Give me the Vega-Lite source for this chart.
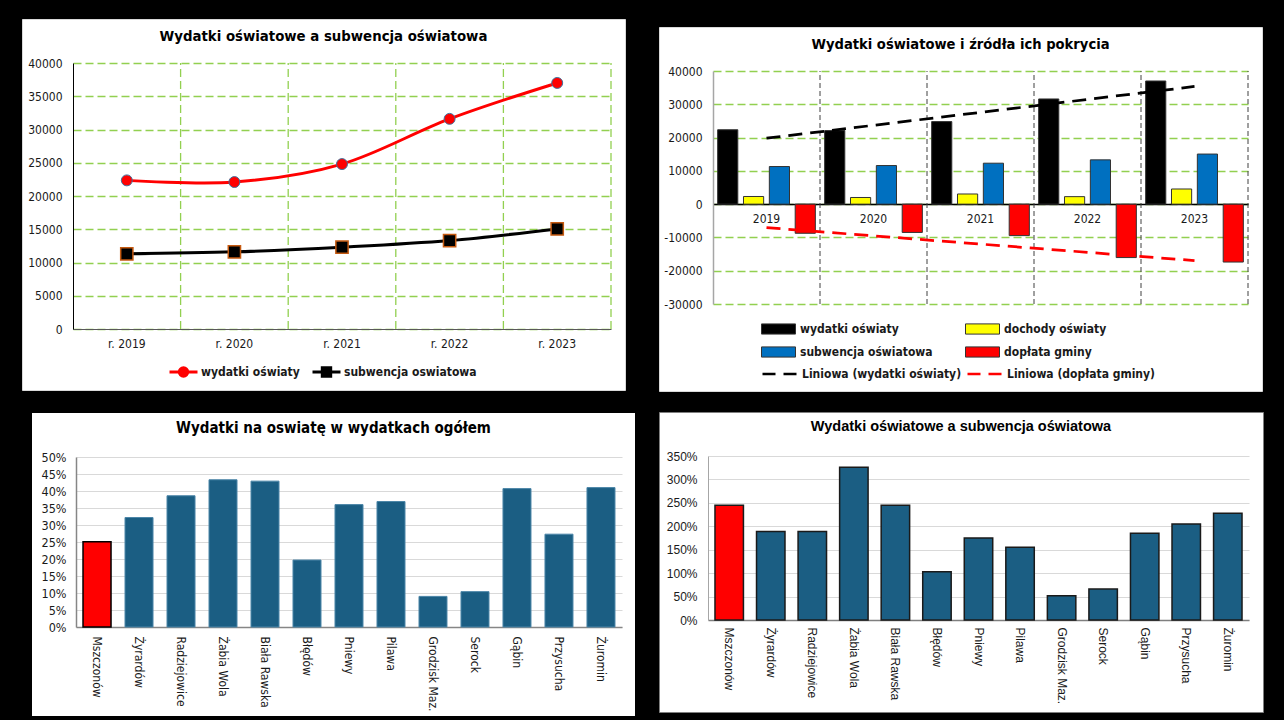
{
  "$schema": "https://vega.github.io/schema/vega-lite/v6.json",
  "background": "black",
  "padding": {"left": 21, "top": 18, "right": 25, "bottom": 7},
  "autosize": {"type": "pad"},
  "config": {"axis": {"ticks": false}},
  "datasets": {
    "p1": [
      {"rok": "r. 2019", "seria": "wydatki oświaty", "wartosc": 22350},
      {"rok": "r. 2020", "seria": "wydatki oświaty", "wartosc": 22100},
      {"rok": "r. 2021", "seria": "wydatki oświaty", "wartosc": 24800},
      {"rok": "r. 2022", "seria": "wydatki oświaty", "wartosc": 31600},
      {"rok": "r. 2023", "seria": "wydatki oświaty", "wartosc": 37000},
      {"rok": "r. 2019", "seria": "subwencja oswiatowa", "wartosc": 11300},
      {"rok": "r. 2020", "seria": "subwencja oswiatowa", "wartosc": 11600},
      {"rok": "r. 2021", "seria": "subwencja oswiatowa", "wartosc": 12300},
      {"rok": "r. 2022", "seria": "subwencja oswiatowa", "wartosc": 13300},
      {"rok": "r. 2023", "seria": "subwencja oswiatowa", "wartosc": 15050}
    ],
    "p2": [
      {"rok": "2019", "seria": "wydatki oświaty", "wartosc": 22350},
      {"rok": "2020", "seria": "wydatki oświaty", "wartosc": 22100},
      {"rok": "2021", "seria": "wydatki oświaty", "wartosc": 24800},
      {"rok": "2022", "seria": "wydatki oświaty", "wartosc": 31600},
      {"rok": "2023", "seria": "wydatki oświaty", "wartosc": 37000},
      {"rok": "2019", "seria": "dochody oświaty", "wartosc": 2300},
      {"rok": "2020", "seria": "dochody oświaty", "wartosc": 2000},
      {"rok": "2021", "seria": "dochody oświaty", "wartosc": 3050},
      {"rok": "2022", "seria": "dochody oświaty", "wartosc": 2250},
      {"rok": "2023", "seria": "dochody oświaty", "wartosc": 4550},
      {"rok": "2019", "seria": "subwencja oświatowa", "wartosc": 11300},
      {"rok": "2020", "seria": "subwencja oświatowa", "wartosc": 11600},
      {"rok": "2021", "seria": "subwencja oświatowa", "wartosc": 12300},
      {"rok": "2022", "seria": "subwencja oświatowa", "wartosc": 13300},
      {"rok": "2023", "seria": "subwencja oświatowa", "wartosc": 15050},
      {"rok": "2019", "seria": "dopłata gminy", "wartosc": -8750},
      {"rok": "2020", "seria": "dopłata gminy", "wartosc": -8500},
      {"rok": "2021", "seria": "dopłata gminy", "wartosc": -9450},
      {"rok": "2022", "seria": "dopłata gminy", "wartosc": -16050},
      {"rok": "2023", "seria": "dopłata gminy", "wartosc": -17400}
    ],
    "p2t": [
      {"rok": "2019", "seria": "Liniowa (wydatki oświaty)", "wartosc": 19800},
      {"rok": "2023", "seria": "Liniowa (wydatki oświaty)", "wartosc": 35350},
      {"rok": "2019", "seria": "Liniowa (dopłata gminy)", "wartosc": -7050},
      {"rok": "2023", "seria": "Liniowa (dopłata gminy)", "wartosc": -16950}
    ],
    "gminy": [
      {"gmina": "Mszczonów", "udzial": 0.251, "relacja": 2.45},
      {"gmina": "Żyrardów", "udzial": 0.322, "relacja": 1.89},
      {"gmina": "Radziejowice", "udzial": 0.386, "relacja": 1.89},
      {"gmina": "Żabia Wola", "udzial": 0.433, "relacja": 3.26},
      {"gmina": "Biała Rawska", "udzial": 0.429, "relacja": 2.45},
      {"gmina": "Błędów", "udzial": 0.197, "relacja": 1.03},
      {"gmina": "Pniewy", "udzial": 0.36, "relacja": 1.75},
      {"gmina": "Pilawa", "udzial": 0.369, "relacja": 1.55},
      {"gmina": "Grodzisk Maz.", "udzial": 0.09, "relacja": 0.52},
      {"gmina": "Serock", "udzial": 0.104, "relacja": 0.66},
      {"gmina": "Gąbin", "udzial": 0.407, "relacja": 1.85},
      {"gmina": "Przysucha", "udzial": 0.273, "relacja": 2.05},
      {"gmina": "Żuromin", "udzial": 0.41, "relacja": 2.28}
    ]
  },
  "spacing": 19,
  "vconcat": [
    {
      "spacing": 32,
      "hconcat": [
        {
          "width": 603,
          "height": 371,
          "view": {"fill": "white", "stroke": "#D9D9D9"},
          "title": {"text": "Wydatki oświatowe a subwencja oświatowa", "offset": -25, "font": "DejaVu Sans Condensed, DejaVu Sans, sans-serif", "fontSize": 14.8, "fontWeight": "bold", "color": "black", "anchor": "middle"},
          "layer": [
            {
              "data": {"name": "p1"},
              "transform": [{"filter": "datum.seria == 'wydatki oświaty'"}],
              "mark": {"type": "rule", "stroke": "#92D050", "strokeWidth": 1.3, "strokeDash": [8, 4]},
              "encoding": {
                "x": {"field": "rok", "type": "nominal", "bandPosition": 1,
                  "scale": {"type": "band", "range": [51, 589], "paddingInner": 0, "paddingOuter": 0},
                  "axis": {"orient": "bottom", "offset": -61, "title": null, "labelAngle": 0, "labelPadding": 9, "labelFont": "DejaVu Sans Condensed, DejaVu Sans, sans-serif", "labelFontSize": 12, "labelColor": "#1a1a1a", "domainColor": "#595959", "domainWidth": 1, "grid": false, "ticks": false}},
                "y": {"datum": 0, "type": "quantitative",
                  "scale": {"domain": [0, 40000], "range": [310, 44], "nice": false},
                  "axis": {"orient": "left", "offset": -51, "title": null, "values": [0, 5000, 10000, 15000, 20000, 25000, 30000, 35000, 40000], "format": "d", "grid": true, "gridColor": "#92D050", "gridDash": [8, 4], "gridWidth": 1.3, "domainColor": "#000000", "domainWidth": 1, "ticks": false, "labelPadding": 11, "labelFont": "DejaVu Sans Condensed, DejaVu Sans, sans-serif", "labelFontSize": 12, "labelColor": "#1a1a1a"}},
                "y2": {"datum": 40000}
              }
            },
            {
              "data": {"name": "p1"},
              "mark": {"type": "line", "interpolate": "cardinal", "strokeWidth": 3},
              "encoding": {
                "x": {"field": "rok", "type": "nominal",
                  "scale": {"type": "band", "range": [51, 589], "paddingInner": 0, "paddingOuter": 0},
                  "axis": {"orient": "bottom", "offset": -61, "title": null, "labelAngle": 0, "labelPadding": 9, "labelFont": "DejaVu Sans Condensed, DejaVu Sans, sans-serif", "labelFontSize": 12, "labelColor": "#1a1a1a", "domainColor": "#595959", "domainWidth": 1, "grid": false, "ticks": false}},
                "y": {"field": "wartosc", "type": "quantitative",
                  "scale": {"domain": [0, 40000], "range": [310, 44], "nice": false},
                  "axis": {"orient": "left", "offset": -51, "title": null, "values": [0, 5000, 10000, 15000, 20000, 25000, 30000, 35000, 40000], "format": "d", "grid": true, "gridColor": "#92D050", "gridDash": [8, 4], "gridWidth": 1.3, "domainColor": "#000000", "domainWidth": 1, "ticks": false, "labelPadding": 11, "labelFont": "DejaVu Sans Condensed, DejaVu Sans, sans-serif", "labelFontSize": 12, "labelColor": "#1a1a1a"}},
                "color": {"field": "seria", "type": "nominal",
                  "scale": {"domain": ["wydatki oświaty", "subwencja oswiatowa"], "range": ["#FF0000", "#000000"]},
                  "legend": {"orient": "none", "legendX": 146, "legendY": 345.5, "direction": "horizontal", "title": null, "symbolSize": 784, "symbolStrokeWidth": 3, "labelFont": "DejaVu Sans Condensed, DejaVu Sans, sans-serif", "labelFontSize": 12, "labelFontWeight": "bold", "labelColor": "#1a1a1a", "labelOffset": 2, "columnPadding": 11, "clipHeight": 15, "labelLimit": 300,
                    "encode": {"symbols": {"update": {
                      "fill": [{"test": "datum.value == 'wydatki oświaty'", "value": "#FF0000"}, {"value": "#000000"}],
                      "shape": [{"test": "datum.value == 'wydatki oświaty'", "value": "M-1,0H1M-0.3,0A0.3,0.3,0,1,1,0.3,0A0.3,0.3,0,1,1,-0.3,0Z"}, {"value": "M-1,0H1M-0.3,-0.3H0.3V0.3H-0.3Z"}]
                    }}}}
                }
              }
            },
            {
              "data": {"name": "p1"},
              "transform": [{"filter": "datum.seria == 'wydatki oświaty'"}],
              "mark": {"type": "point", "shape": "circle", "filled": true, "fill": "#FF0000", "stroke": "#41719C", "strokeWidth": 1, "size": 120, "opacity": 1},
              "encoding": {
                "x": {"field": "rok", "type": "nominal",
                  "scale": {"type": "band", "range": [51, 589], "paddingInner": 0, "paddingOuter": 0},
                  "axis": {"orient": "bottom", "offset": -61, "title": null, "labelAngle": 0, "labelPadding": 9, "labelFont": "DejaVu Sans Condensed, DejaVu Sans, sans-serif", "labelFontSize": 12, "labelColor": "#1a1a1a", "domainColor": "#595959", "domainWidth": 1, "grid": false, "ticks": false}},
                "y": {"field": "wartosc", "type": "quantitative",
                  "scale": {"domain": [0, 40000], "range": [310, 44], "nice": false},
                  "axis": {"orient": "left", "offset": -51, "title": null, "values": [0, 5000, 10000, 15000, 20000, 25000, 30000, 35000, 40000], "format": "d", "grid": true, "gridColor": "#92D050", "gridDash": [8, 4], "gridWidth": 1.3, "domainColor": "#000000", "domainWidth": 1, "ticks": false, "labelPadding": 11, "labelFont": "DejaVu Sans Condensed, DejaVu Sans, sans-serif", "labelFontSize": 12, "labelColor": "#1a1a1a"}}
              }
            },
            {
              "data": {"name": "p1"},
              "transform": [{"filter": "datum.seria == 'subwencja oswiatowa'"}],
              "mark": {"type": "point", "shape": "square", "filled": true, "fill": "#000000", "stroke": "#C55A11", "strokeWidth": 1.5, "size": 150, "opacity": 1},
              "encoding": {
                "x": {"field": "rok", "type": "nominal",
                  "scale": {"type": "band", "range": [51, 589], "paddingInner": 0, "paddingOuter": 0},
                  "axis": {"orient": "bottom", "offset": -61, "title": null, "labelAngle": 0, "labelPadding": 9, "labelFont": "DejaVu Sans Condensed, DejaVu Sans, sans-serif", "labelFontSize": 12, "labelColor": "#1a1a1a", "domainColor": "#595959", "domainWidth": 1, "grid": false, "ticks": false}},
                "y": {"field": "wartosc", "type": "quantitative",
                  "scale": {"domain": [0, 40000], "range": [310, 44], "nice": false},
                  "axis": {"orient": "left", "offset": -51, "title": null, "values": [0, 5000, 10000, 15000, 20000, 25000, 30000, 35000, 40000], "format": "d", "grid": true, "gridColor": "#92D050", "gridDash": [8, 4], "gridWidth": 1.3, "domainColor": "#000000", "domainWidth": 1, "ticks": false, "labelPadding": 11, "labelFont": "DejaVu Sans Condensed, DejaVu Sans, sans-serif", "labelFontSize": 12, "labelColor": "#1a1a1a"}}
              }
            }
          ]
        },
        {
          "spacing": 6,
          "vconcat": [
            {"width": 1, "height": 1, "data": {"values": []}, "mark": "point", "encoding": {}, "view": {"stroke": null}},
            {
              "width": 603,
              "height": 364,
              "view": {"fill": "white", "stroke": "#D9D9D9"},
              "title": {"text": "Wydatki oświatowe i źródła ich pokrycia", "offset": -25, "font": "DejaVu Sans Condensed, DejaVu Sans, sans-serif", "fontSize": 14.6, "fontWeight": "bold", "color": "black", "anchor": "middle"},
              "layer": [
                {
                  "data": {"name": "p2"},
                  "transform": [{"filter": "datum.seria == 'wydatki oświaty'"}],
                  "mark": {"type": "rule", "stroke": "#404040", "strokeWidth": 1, "strokeDash": [5, 3]},
                  "encoding": {
                    "x": {"field": "rok", "type": "nominal", "bandPosition": 1,
                      "scale": {"type": "band", "range": [54, 589], "paddingInner": 0, "paddingOuter": 0},
                      "axis": {"orient": "bottom", "offset": -187, "title": null, "labelAngle": 0, "labelPadding": 9, "labelFont": "DejaVu Sans Condensed, DejaVu Sans, sans-serif", "labelFontSize": 12, "labelColor": "#1a1a1a", "domainColor": "#000000", "domainWidth": 1.5, "grid": false, "ticks": false}},
                    "y": {"datum": -30000, "type": "quantitative",
                      "scale": {"domain": [-30000, 40000], "range": [277, 44], "nice": false},
                      "axis": {"orient": "left", "offset": -54, "title": null, "values": [-30000, -20000, -10000, 0, 10000, 20000, 30000, 40000], "labelExpr": "'' + datum.value", "grid": true, "gridColor": "#92D050", "gridDash": [8, 4], "gridWidth": 1.3, "domainColor": "#A6A6A6", "domainWidth": 1.5, "ticks": false, "labelPadding": 11, "labelFont": "DejaVu Sans Condensed, DejaVu Sans, sans-serif", "labelFontSize": 12, "labelColor": "#1a1a1a"}},
                    "y2": {"datum": 40000}
                  }
                },
                {
                  "data": {"name": "p2"},
                  "mark": {"type": "bar", "stroke": "#333333", "strokeWidth": 1},
                  "encoding": {
                    "x": {"field": "rok", "type": "nominal",
                      "scale": {"type": "band", "range": [54, 589], "paddingInner": 0, "paddingOuter": 0},
                      "axis": {"orient": "bottom", "offset": -187, "title": null, "labelAngle": 0, "labelPadding": 9, "labelFont": "DejaVu Sans Condensed, DejaVu Sans, sans-serif", "labelFontSize": 12, "labelColor": "#1a1a1a", "domainColor": "#000000", "domainWidth": 1.5, "grid": false, "ticks": false}},
                    "xOffset": {"field": "seria", "type": "nominal", "scale": {"domain": ["wydatki oświaty", "dochody oświaty", "subwencja oświatowa", "dopłata gminy"], "paddingInner": 0.22, "paddingOuter": 0.18}},
                    "y": {"field": "wartosc", "type": "quantitative",
                      "scale": {"domain": [-30000, 40000], "range": [277, 44], "nice": false},
                      "axis": {"orient": "left", "offset": -54, "title": null, "values": [-30000, -20000, -10000, 0, 10000, 20000, 30000, 40000], "labelExpr": "'' + datum.value", "grid": true, "gridColor": "#92D050", "gridDash": [8, 4], "gridWidth": 1.3, "domainColor": "#A6A6A6", "domainWidth": 1.5, "ticks": false, "labelPadding": 11, "labelFont": "DejaVu Sans Condensed, DejaVu Sans, sans-serif", "labelFontSize": 12, "labelColor": "#1a1a1a"}},
                    "fill": {"field": "seria", "type": "nominal",
                      "scale": {"domain": ["wydatki oświaty", "subwencja oświatowa", "dochody oświaty", "dopłata gminy"], "range": ["#000000", "#0070C0", "#FFFF00", "#FF0000"]},
                      "legend": {"orient": "none", "legendX": 739, "legendY": 302.5, "columns": 2, "title": null, "symbolType": "M-1,-0.3H1V0.3H-1Z", "symbolSize": 1156, "symbolStrokeColor": "#333333", "symbolStrokeWidth": 1, "labelFont": "DejaVu Sans Condensed, DejaVu Sans, sans-serif", "labelFontSize": 12, "labelFontWeight": "bold", "labelColor": "#1a1a1a", "labelOffset": 4, "columnPadding": 32, "rowPadding": 8, "clipHeight": 15, "labelLimit": 300}}
                  }
                },
                {
                  "data": {"name": "p2t"},
                  "mark": {"type": "line", "strokeWidth": 2.75, "strokeDash": [14, 8]},
                  "encoding": {
                    "x": {"field": "rok", "type": "nominal",
                      "scale": {"type": "band", "range": [54, 589], "paddingInner": 0, "paddingOuter": 0},
                      "axis": {"orient": "bottom", "offset": -187, "title": null, "labelAngle": 0, "labelPadding": 9, "labelFont": "DejaVu Sans Condensed, DejaVu Sans, sans-serif", "labelFontSize": 12, "labelColor": "#1a1a1a", "domainColor": "#000000", "domainWidth": 1.5, "grid": false, "ticks": false}},
                    "y": {"field": "wartosc", "type": "quantitative",
                      "scale": {"domain": [-30000, 40000], "range": [277, 44], "nice": false},
                      "axis": {"orient": "left", "offset": -54, "title": null, "values": [-30000, -20000, -10000, 0, 10000, 20000, 30000, 40000], "labelExpr": "'' + datum.value", "grid": true, "gridColor": "#92D050", "gridDash": [8, 4], "gridWidth": 1.3, "domainColor": "#A6A6A6", "domainWidth": 1.5, "ticks": false, "labelPadding": 11, "labelFont": "DejaVu Sans Condensed, DejaVu Sans, sans-serif", "labelFontSize": 12, "labelColor": "#1a1a1a"}},
                    "stroke": {"field": "seria", "type": "nominal",
                      "scale": {"domain": ["Liniowa (wydatki oświaty)", "Liniowa (dopłata gminy)"], "range": ["#000000", "#FF0000"]},
                      "legend": {"orient": "none", "legendX": 739, "legendY": 347.5, "columns": 2, "title": null, "symbolType": "stroke", "symbolSize": 1156, "symbolStrokeWidth": 2.5, "symbolDash": [13, 8], "labelFont": "DejaVu Sans Condensed, DejaVu Sans, sans-serif", "labelFontSize": 12, "labelFontWeight": "bold", "labelColor": "#1a1a1a", "labelOffset": 4, "columnPadding": 4, "clipHeight": 15, "labelLimit": 300}}
                  }
                }
              ]
            }
          ]
        }
      ]
    },
    {
      "spacing": 21,
      "hconcat": [
        {
          "spacing": 7,
          "hconcat": [
            {"width": 1, "height": 1, "data": {"values": []}, "mark": "point", "encoding": {}, "view": {"stroke": null}},
            {
              "width": 605,
              "height": 305,
              "view": {"fill": "white", "stroke": "#000000", "strokeWidth": 2},
              "title": {"text": "Wydatki na oswiatę  w wydatkach ogółem", "offset": -24, "font": "DejaVu Sans Condensed, DejaVu Sans, sans-serif", "fontSize": 15, "fontWeight": "bold", "color": "black", "anchor": "middle"},
              "data": {"name": "gminy"},
              "mark": {"type": "bar"},
              "encoding": {
                "x": {"field": "gmina", "type": "nominal", "sort": null,
                  "scale": {"type": "band", "range": [45, 591], "paddingInner": 0.333, "paddingOuter": 0.167},
                  "axis": {"orient": "bottom", "offset": -90, "title": null, "labelAngle": 90, "labelPadding": 9, "labelFont": "DejaVu Sans Condensed, DejaVu Sans, sans-serif", "labelFontSize": 12, "labelColor": "#1a1a1a", "domainColor": "#868686", "domainWidth": 1.5, "grid": false, "ticks": false}},
                "y": {"field": "udzial", "type": "quantitative",
                  "scale": {"domain": [0, 0.5], "range": [215, 45], "nice": false},
                  "axis": {"orient": "left", "offset": -45, "title": null, "values": [0, 0.05, 0.1, 0.15, 0.2, 0.25, 0.3, 0.35, 0.4, 0.45, 0.5], "format": ".0%", "grid": true, "gridColor": "#D9D9D9", "gridWidth": 1, "domainColor": "#868686", "domainWidth": 1.5, "ticks": false, "labelPadding": 10, "labelFont": "DejaVu Sans Condensed, DejaVu Sans, sans-serif", "labelFontSize": 12.5, "labelColor": "#1a1a1a"}},
                "fill": {"condition": {"test": "datum.gmina == 'Mszczonów'", "value": "#FF0000"}, "value": "#1B5E83"},
                "stroke": {"condition": {"test": "datum.gmina == 'Mszczonów'", "value": "#000000"}, "value": "#4C86A8"},
                "strokeWidth": {"condition": {"test": "datum.gmina == 'Mszczonów'", "value": 1.5}, "value": 1}
              }
            }
          ]
        },
        {
          "width": 604,
          "height": 300,
          "view": {"fill": "white", "stroke": "#7F7F7F"},
          "title": {"text": "Wydatki oświatowe a subwencja oświatowa", "offset": -22, "font": "Liberation Sans, Arial, sans-serif", "fontSize": 14.5, "fontWeight": "bold", "color": "black", "anchor": "middle"},
          "data": {"name": "gminy"},
          "mark": {"type": "bar", "stroke": "#1a1a1a", "strokeWidth": 1.5},
          "encoding": {
            "x": {"field": "gmina", "type": "nominal", "sort": null,
              "scale": {"type": "band", "range": [49, 590], "paddingInner": 0.315, "paddingOuter": 0.168},
              "axis": {"orient": "bottom", "offset": -92, "title": null, "labelAngle": 90, "labelPadding": 7, "labelFont": "Liberation Sans, Arial, sans-serif", "labelFontSize": 12, "labelColor": "#1a1a1a", "domainColor": "#7F7F7F", "domainWidth": 1.5, "grid": false, "ticks": false}},
            "y": {"field": "relacja", "type": "quantitative",
              "scale": {"domain": [0, 3.5], "range": [208, 44], "nice": false},
              "axis": {"orient": "left", "offset": -49, "title": null, "values": [0, 0.5, 1, 1.5, 2, 2.5, 3, 3.5], "format": ".0%", "grid": true, "gridColor": "#D9D9D9", "gridWidth": 1, "domainColor": "#A6A6A6", "domainWidth": 1, "ticks": false, "labelPadding": 11, "labelFont": "Liberation Sans, Arial, sans-serif", "labelFontSize": 12, "labelColor": "#1a1a1a"}},
            "fill": {"condition": {"test": "datum.gmina == 'Mszczonów'", "value": "#FF0000"}, "value": "#1B5E83"}
          }
        }
      ]
    }
  ]
}
